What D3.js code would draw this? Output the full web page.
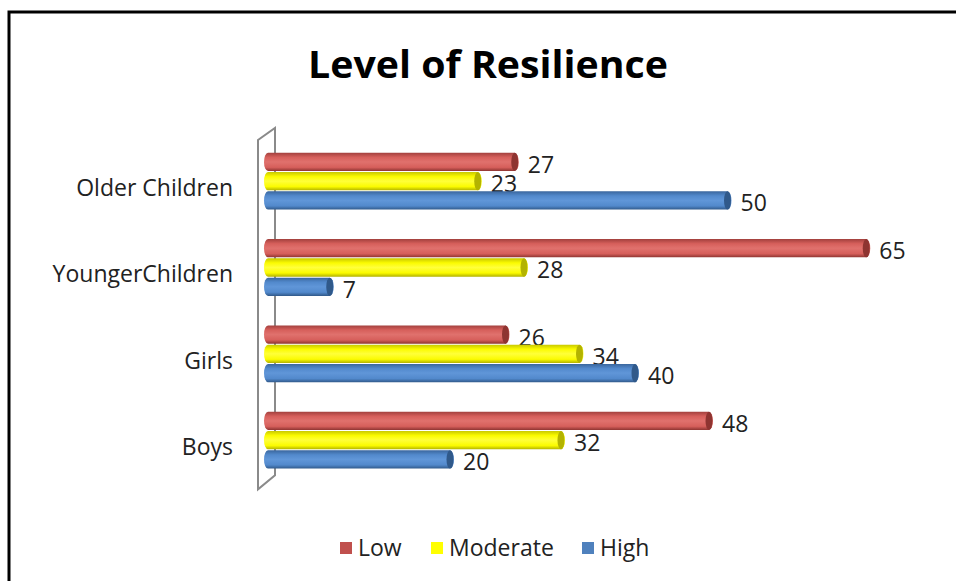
<!DOCTYPE html>
<html>
<head>
<meta charset="utf-8">
<script src="https://cdn.jsdelivr.net/npm/d3@7"></script>
<style>
  body { margin: 0; background: #fff; }
  svg { display: block; font-family: "Open Sans", sans-serif; }
</style>
</head>
<body>
<svg id="chart" width="956" height="581"></svg>
<script>
// data
var categories = ["Older Children", "YoungerChildren", "Girls", "Boys"];
var seriesNames = ["Low", "Moderate", "High"];
var lowValues = [27, 65, 26, 48];
var moderateValues = [23, 28, 34, 32];
var highValues = [50, 7, 40, 20];

var colors = {
  Low: ["#8e3431", "#d65f5b", "#e0716d", "#a2403d"],
  Moderate: ["#b3b300", "#fbfb00", "#ffff3a", "#c8c800"],
  High: ["#30598a", "#5289cc", "#6096d8", "#3a669d"]
};
var legendColors = { Low: "#c0504d", Moderate: "#ffff00", High: "#4f81bd" };

var valuesBySeries = { Low: lowValues, Moderate: moderateValues, High: highValues };

var svg = d3.select("#chart");
var defs = svg.append("defs");

// frame (top and left edge only visible)
svg.append("path")
  .attr("d", "M9,581 L9,12 L956,12")
  .attr("fill", "none")
  .attr("stroke", "#000")
  .attr("stroke-width", 3);

svg.append("text")
  .attr("x", 488)
  .attr("y", 78)
  .attr("text-anchor", "middle")
  .attr("font-size", 37)
  .attr("font-weight", "bold")
  .attr("fill", "#000")
  .attr("textLength", 360)
  .attr("lengthAdjust", "spacingAndGlyphs")
  .text("Level of Resilience");

var x = d3.scaleLinear().domain([0, 70]).range([265, 265 + 9.25 * 70]);
var y = d3.scaleBand().domain(categories).range([138, 483.3])
  .paddingInner(0.33).paddingOuter(0.165);
var ySub = d3.scaleBand().domain(seriesNames).range([0, y.bandwidth()]);

// 3d wall on the category axis
var wallTop = y.range()[0], wallBot = y.range()[1];
svg.append("path")
  .attr("d", "M258," + (wallTop + 2) + " L275," + (wallTop - 10) + " L275," + (wallBot - 8) +
    " L258," + (wallBot + 6) + " Z")
  .attr("fill", "none")
  .attr("stroke", "#8a8a8a")
  .attr("stroke-width", 2);

// cylinder gradients
seriesNames.forEach(function(s) {
  var g = defs.append("linearGradient")
    .attr("id", "grad-" + s)
    .attr("x1", 0).attr("y1", 0).attr("x2", 0).attr("y2", 1);
  var c = colors[s];
  g.append("stop").attr("offset", "0%").attr("stop-color", c[3]);
  g.append("stop").attr("offset", "25%").attr("stop-color", c[1]);
  g.append("stop").attr("offset", "50%").attr("stop-color", c[2]);
  g.append("stop").attr("offset", "80%").attr("stop-color", c[1]);
  g.append("stop").attr("offset", "100%").attr("stop-color", c[0]);
});

var rows = [];
categories.forEach(function(cat, i) {
  seriesNames.forEach(function(s) {
    rows.push({ cat: cat, series: s, value: valuesBySeries[s][i] });
  });
});

var bars = svg.append("g").selectAll("g")
  .data(rows)
  .join("g");

bars.append("rect")
  .attr("x", x(0) - 1)
  .attr("y", function(d) { return y(d.cat) + ySub(d.series) + 0.5; })
  .attr("width", function(d) { return x(d.value) - x(0) + 5; })
  .attr("height", ySub.bandwidth() - 1)
  .attr("rx", 4)
  .attr("ry", (ySub.bandwidth() - 1) / 2)
  .attr("fill", function(d) { return "url(#grad-" + d.series + ")"; });

bars.append("ellipse")
  .attr("cx", function(d) { return x(d.value); })
  .attr("cy", function(d) { return y(d.cat) + ySub(d.series) + ySub.bandwidth() / 2; })
  .attr("rx", 3.5)
  .attr("ry", (ySub.bandwidth() - 1) / 2)
  .attr("fill", function(d) { return colors[d.series][0]; });

bars.append("text")
  .attr("x", function(d) { return x(d.value) + 13; })
  .attr("y", function(d) { return y(d.cat) + ySub(d.series) + ySub.bandwidth() / 2 + 11; })
  .attr("font-size", 23)
  .attr("fill", "#222")
  .text(function(d) { return d.value; });

// category labels
svg.append("g").selectAll("text")
  .data(categories)
  .join("text")
  .attr("x", 233)
  .attr("y", function(d) { return y(d) + y.bandwidth() / 2 + 15; })
  .attr("text-anchor", "end")
  .attr("font-size", 23)
  .attr("fill", "#222")
  .text(function(d) { return d; });

// legend
var legendX = [340, 431, 582];
var legend = svg.append("g").selectAll("g")
  .data(seriesNames)
  .join("g")
  .attr("transform", function(d, i) { return "translate(" + legendX[i] + ",548)"; });

legend.append("rect")
  .attr("x", 0).attr("y", -6)
  .attr("width", 12).attr("height", 12)
  .attr("fill", function(d) { return legendColors[d]; });

legend.append("text")
  .attr("x", 18).attr("y", 8)
  .attr("font-size", 23)
  .attr("fill", "#222")
  .text(function(d) { return d; });
</script>
</body>
</html>
